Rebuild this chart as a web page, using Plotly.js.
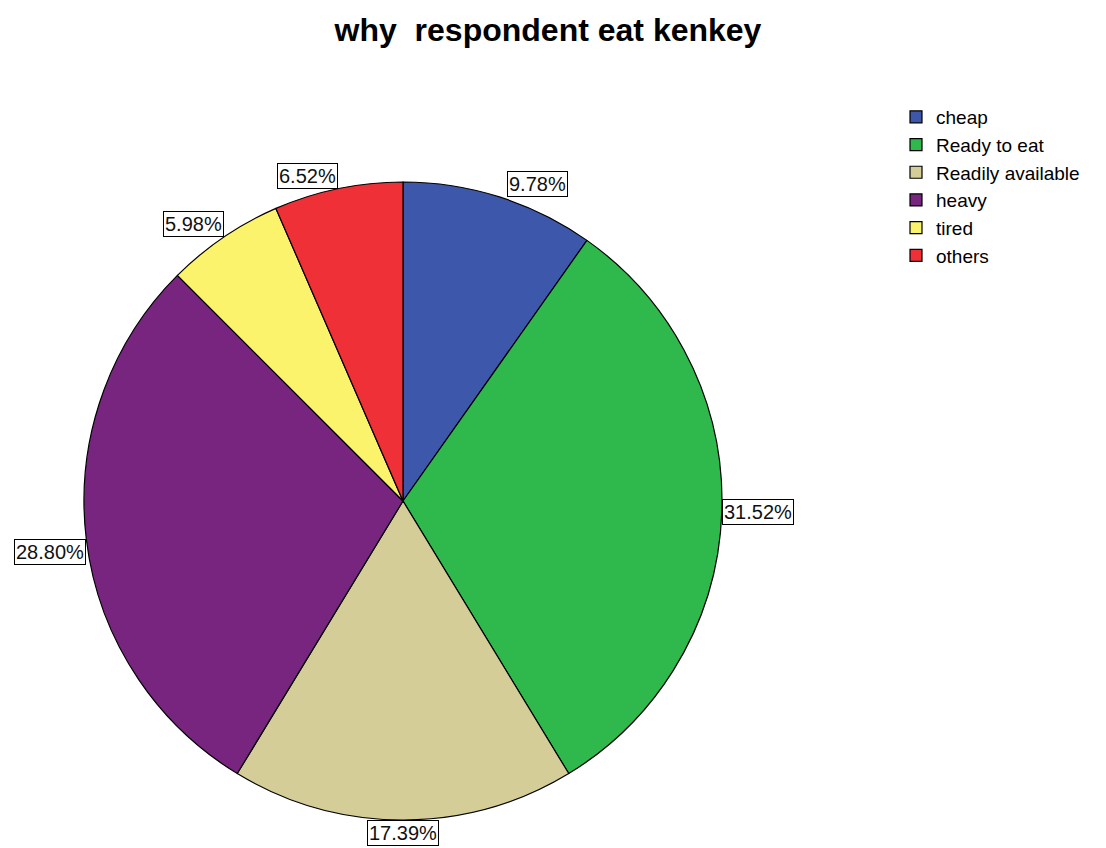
<!DOCTYPE html>
<html>
<head>
<meta charset="utf-8">
<script src="https://cdn.plot.ly/plotly-3.0.1.min.js"></script>
<style>html,body{margin:0;padding:0;background:#fff;}#chart{width:1106px;height:848px;}</style>
</head>
<body>
<div id="chart"></div>
<script>
const categories = ["cheap", "Ready to eat", "Readily available", "heavy", "tired", "others"];
const percents = [9.78, 31.52, 17.39, 28.80, 5.98, 6.52];
const colors = ["#3d58ab", "#2fb84b", "#d4cd98", "#78257f", "#fbf36c", "#ef3137"];

const W = 1106, H = 848;
const cx = 403, cy = 501, R = 319;
const dom = {
  x: [(cx - R) / W, (cx + R) / W],
  y: [(H - (cy + R)) / H, (H - (cy - R)) / H]
};

// Label annotations computed from the data (mid-angle of each slice)
const total = percents.reduce((a, b) => a + b, 0);
let cum = 0;
const annotations = percents.map((p, i) => {
  const mid = (cum + p / 2) / total * 2 * Math.PI;
  cum += p;
  const s = Math.sin(mid), c = Math.cos(mid);
  const px = cx + R * s, py = cy - R * c;
  let xanchor = Math.abs(s) < 0.15 ? 'center' : (s > 0 ? 'left' : 'right');
  let yanchor = c > 0.3 ? 'bottom' : (c < -0.05 ? 'top' : 'middle');
  return {
    x: px / W, y: 1 - py / H, xref: 'paper', yref: 'paper',
    xanchor: xanchor, yanchor: yanchor,
    xshift: (s > 0.15 && c > 0.3) ? 8 : 0,
    text: p.toFixed(2) + '%', showarrow: false,
    font: {family: 'Liberation Sans, Arial, sans-serif', size: 20, color: '#111'},
    bgcolor: '#fff', bordercolor: '#000', borderwidth: 1, borderpad: 1
  };
});

const data = [{
  type: 'pie',
  labels: categories,
  values: percents,
  sort: false,
  direction: 'clockwise',
  rotation: 0,
  textinfo: 'none',
  hoverinfo: 'none',
  marker: {colors: colors, line: {color: '#000', width: 1.2}},
  domain: dom
}];

const layout = {
  width: W, height: H,
  margin: {l: 0, r: 0, t: 0, b: 0},
  paper_bgcolor: '#fff',
  title: {
    text: '<b>why  respondent eat kenkey</b>',
    x: 548 / W, xanchor: 'center', xref: 'paper',
    y: 1 - 30 / H, yanchor: 'middle', yref: 'container',
    font: {family: 'Liberation Sans, Arial, sans-serif', size: 32, color: '#000'}
  },
  showlegend: true,
  legend: {
    x: 896 / W, y: 1 - 98 / H, xanchor: 'left', yanchor: 'top',
    font: {family: 'Liberation Sans, Arial, sans-serif', size: 19, color: '#000'},
    itemwidth: 30, tracegroupgap: 0, bgcolor: 'rgba(0,0,0,0)'
  },
  annotations: annotations
};

Plotly.newPlot('chart', data, layout, {displayModeBar: false, staticPlot: true});
</script>
</body>
</html>
